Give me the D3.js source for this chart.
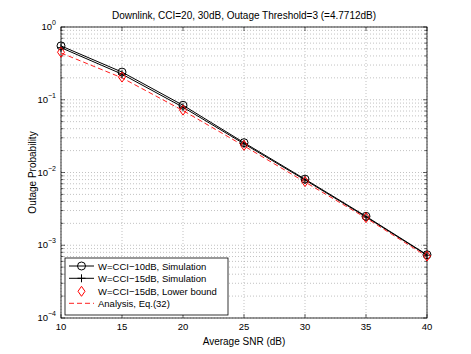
<!DOCTYPE html>
<html>
<head>
<meta charset="utf-8">
<script src="https://cdn.jsdelivr.net/npm/d3@7"></script>
<style>
  body { margin: 0; background: #fff; }
  svg { font-family: "Liberation Sans", Arial, sans-serif; }
</style>
</head>
<body>
<div id="chart"></div>
<script>
// data
const snr = [10, 15, 20, 25, 30, 35, 40];
const sim10 = [0.55, 0.24, 0.084, 0.0257, 0.0081, 0.0025, 0.00074];
const sim15 = [0.52, 0.225, 0.079, 0.0248, 0.0079, 0.00245, 0.00073];
const lower15 = [0.45, 0.205, 0.072, 0.0236, 0.0075, 0.0024, 0.00071];
const analysis = [0.44, 0.2, 0.071, 0.0232, 0.0074, 0.00237, 0.0007];
const xTicks = [10, 15, 20, 25, 30, 35, 40];
const yExps = [0, -1, -2, -3, -4];
const legendLabels = ['W=CCI\u221210dB, Simulation', 'W=CCI\u221215dB, Simulation',
    'W=CCI\u221215dB, Lower bound', 'Analysis, Eq.(32)'];

const width = 471, height = 354;
const margin = {t: 27, r: 44, b: 36, l: 61};
const w = width - margin.l - margin.r;
const h = height - margin.t - margin.b;

const svg = d3.select('#chart').append('svg')
    .attr('width', width)
    .attr('height', height);

const x = d3.scaleLinear().domain([10, 40]).range([0, w]);
const y = d3.scaleLog().domain([1e-4, 1]).range([h, 0]);

const plot = svg.append('g')
    .attr('transform', `translate(${margin.l},${margin.t})`);

// grid lines
const minorY = [];
for (let e = -4; e < 0; e++) {
    for (let k = 1; k < 10; k++) minorY.push(k * Math.pow(10, e));
}
minorY.push(1);

plot.append('g').selectAll('line')
    .data(minorY)
    .enter().append('line')
    .attr('x1', 0).attr('x2', w)
    .attr('y1', d => y(d)).attr('y2', d => y(d))
    .attr('stroke', '#999').attr('stroke-width', 0.6)
    .attr('stroke-dasharray', '1,2');

plot.append('g').selectAll('line')
    .data(xTicks)
    .enter().append('line')
    .attr('x1', d => x(d)).attr('x2', d => x(d))
    .attr('y1', 0).attr('y2', h)
    .attr('stroke', '#999').attr('stroke-width', 0.6)
    .attr('stroke-dasharray', '1,2');

// ticks inside the box
const ticks = plot.append('g').attr('stroke', '#000').attr('stroke-width', 0.6);
xTicks.forEach(t => {
    ticks.append('line').attr('x1', x(t)).attr('x2', x(t)).attr('y1', h).attr('y2', h - 4);
    ticks.append('line').attr('x1', x(t)).attr('x2', x(t)).attr('y1', 0).attr('y2', 4);
});
minorY.forEach(t => {
    const major = Math.abs(Math.log10(t) - Math.round(Math.log10(t))) < 1e-9;
    const len = major ? 4 : 2.5;
    ticks.append('line').attr('x1', 0).attr('x2', len).attr('y1', y(t)).attr('y2', y(t));
    ticks.append('line').attr('x1', w).attr('x2', w - len).attr('y1', y(t)).attr('y2', y(t));
});

// box
plot.append('rect')
    .attr('width', w).attr('height', h)
    .attr('fill', 'none').attr('stroke', '#000').attr('stroke-width', 0.8);

// tick labels
plot.append('g').selectAll('text')
    .data(xTicks)
    .enter().append('text')
    .attr('x', d => x(d)).attr('y', h + 12)
    .attr('text-anchor', 'middle')
    .attr('font-size', 9.5)
    .text(d => d);

const yl = plot.append('g').selectAll('text')
    .data(yExps)
    .enter().append('text')
    .attr('x', -5).attr('y', d => y(Math.pow(10, d)) + 3)
    .attr('text-anchor', 'end')
    .attr('font-size', 9.5);
yl.append('tspan').text('10');
yl.append('tspan').attr('dy', -5).attr('font-size', 7).text(d => d === 0 ? '0' : '\u2212' + (-d));

// titles
svg.append('text')
    .attr('x', margin.l + w / 2).attr('y', 19)
    .attr('text-anchor', 'middle').attr('font-size', 10)
    .text('Downlink, CCI=20, 30dB, Outage Threshold=3 (=4.7712dB)');

svg.append('text')
    .attr('x', margin.l + w / 2).attr('y', 345)
    .attr('text-anchor', 'middle').attr('font-size', 10)
    .text('Average SNR (dB)');

svg.append('text')
    .attr('transform', `translate(36,${margin.t + h / 2}) rotate(-90)`)
    .attr('text-anchor', 'middle').attr('font-size', 10)
    .text('Outage Probability');

// series
const line = vals => d3.line().x((d, i) => x(snr[i])).y(d => y(d))(vals);

plot.append('path').attr('d', line(sim10))
    .attr('fill', 'none').attr('stroke', '#000').attr('stroke-width', 1);
plot.append('path').attr('d', line(sim15))
    .attr('fill', 'none').attr('stroke', '#000').attr('stroke-width', 1);
plot.append('path').attr('d', line(analysis))
    .attr('fill', 'none').attr('stroke', '#ff2020').attr('stroke-width', 1)
    .attr('stroke-dasharray', '5,3');

const circleSym = d3.symbol().type(d3.symbolCircle).size(50);
const plusSym = 'M-4,0H4M0,-4V4';
const diamondSym = 'M0,-5L3.5,0L0,5L-3.5,0Z';

plot.append('g').selectAll('path')
    .data(sim10).enter().append('path')
    .attr('transform', (d, i) => `translate(${x(snr[i])},${y(d)})`)
    .attr('d', circleSym()).attr('fill', 'none').attr('stroke', '#000').attr('stroke-width', 1);
plot.append('g').selectAll('path')
    .data(sim15).enter().append('path')
    .attr('transform', (d, i) => `translate(${x(snr[i])},${y(d)})`)
    .attr('d', plusSym).attr('fill', 'none').attr('stroke', '#000').attr('stroke-width', 1);
plot.append('g').selectAll('path')
    .data(lower15).enter().append('path')
    .attr('transform', (d, i) => `translate(${x(snr[i])},${y(d)})`)
    .attr('d', diamondSym).attr('fill', 'none').attr('stroke', '#ff0000').attr('stroke-width', 1);

// legend
const lg = svg.append('g').attr('transform', 'translate(65,258)');
lg.append('rect').attr('width', 163).attr('height', 57)
    .attr('fill', '#fff').attr('stroke', '#000').attr('stroke-width', 0.8);
const rows = [8, 20.3, 33.3, 45.3];
legendLabels.forEach((lab, i) => {
    const g = lg.append('g').attr('transform', `translate(0,${rows[i]})`);
    if (i < 2) {
        g.append('line').attr('x1', 4).attr('x2', 29).attr('stroke', '#000').attr('stroke-width', 1);
    }
    if (i === 3) {
        g.append('line').attr('x1', 4).attr('x2', 29).attr('stroke', '#ff2020').attr('stroke-width', 1)
            .attr('stroke-dasharray', '5,3');
    }
    const mk = g.append('path').attr('transform', 'translate(16.5,0)').attr('fill', 'none').attr('stroke-width', 1);
    if (i === 0) mk.attr('d', circleSym()).attr('stroke', '#000');
    if (i === 1) mk.attr('d', plusSym).attr('stroke', '#000');
    if (i === 2) mk.attr('d', diamondSym).attr('stroke', '#ff0000');
    g.append('text').attr('x', 33).attr('y', 3.5).attr('font-size', 9.5).text(lab);
});
</script>
</body>
</html>
